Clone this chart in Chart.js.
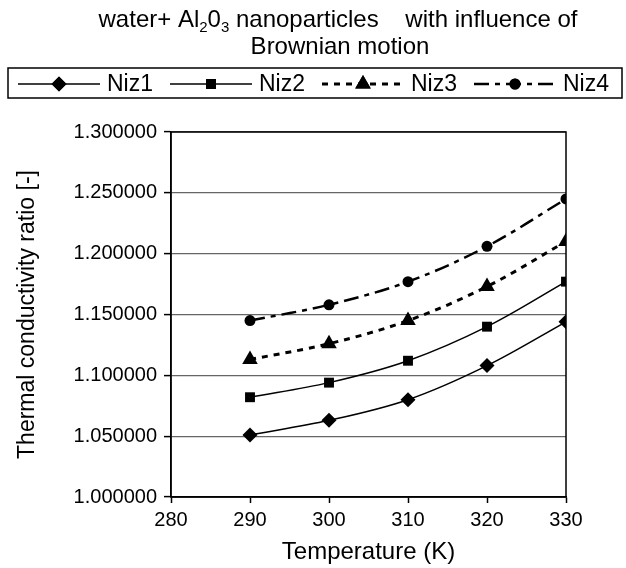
<!DOCTYPE html>
<html>
<head>
<meta charset="utf-8">
<script src="https://cdn.jsdelivr.net/npm/chart.js@4.4.1/dist/chart.umd.min.js"></script>
<style>
  body { margin: 0; background: #fff; }
  canvas { display: block; }
</style>
</head>
<body>
<canvas id="chart" width="626" height="568"></canvas>
<script>
// data
const temps = [290, 300, 310, 320, 330];
const niz1 = [1.051, 1.063, 1.080, 1.108, 1.144];
const niz2 = [1.082, 1.094, 1.112, 1.140, 1.177];
const niz3 = [1.113, 1.126, 1.145, 1.173, 1.210];
const niz4 = [1.145, 1.158, 1.177, 1.206, 1.245];
const seriesNames = ['Niz1', 'Niz2', 'Niz3', 'Niz4'];
const xTicks = [280, 290, 300, 310, 320, 330];
const yTicks = [1.0, 1.05, 1.1, 1.15, 1.2, 1.25, 1.3];

const FONT = '"Liberation Sans", Arial, sans-serif';

// marker + line look for each series
const looks = [
    {pointStyle: 'rectRot', radius: 7.5, dash: [], width: 1.5},
    {pointStyle: 'rect', radius: 7, dash: [], width: 1.5},
    {pointStyle: 'triangle', radius: 9, dash: [6, 6], width: 3},
    {pointStyle: 'circle', radius: 5.5, dash: [15, 6, 5, 6], width: 2.5}
];

function toPoints(values){
    return values.map((v, i) => ({x: temps[i], y: v}));
}

const allValues = [niz1, niz2, niz3, niz4];
const datasets = [];
for(let i = 0; i < allValues.length; i++){
    datasets.push({
        label: seriesNames[i],
        data: toPoints(allValues[i]),
        borderColor: '#000',
        backgroundColor: '#000',
        borderWidth: looks[i].width,
        borderDash: looks[i].dash,
        tension: 0.35,
        pointStyle: looks[i].pointStyle,
        pointRadius: looks[i].radius,
        pointHoverRadius: looks[i].radius,
        pointBorderWidth: 0,
        pointBackgroundColor: '#000'
    });
}

// title (with subscripts), boxed legend and plot frame
const decorPlugin = {
    id: 'decor',
    afterDraw(chart){
        const ctx = chart.ctx;
        const area = chart.chartArea;
        ctx.save();

        // frame round plot area
        ctx.strokeStyle = '#000';
        ctx.lineWidth = 1.5;
        ctx.strokeRect(area.left, area.top, area.right - area.left, area.bottom - area.top);

        // title line 1
        const mainFont = '24px ' + FONT;
        const subFont = '15px ' + FONT;
        const parts = [['water+ Al', false], ['2', true], ['0', false], ['3', true],
                       [' nanoparticles    with influence of', false]];
        ctx.fillStyle = '#000';
        ctx.textBaseline = 'alphabetic';
        ctx.textAlign = 'left';
        let total = 0;
        parts.forEach(p => {
            ctx.font = p[1] ? subFont : mainFont;
            total += ctx.measureText(p[0]).width;
        });
        let x = 338 - total / 2;
        parts.forEach(p => {
            ctx.font = p[1] ? subFont : mainFont;
            ctx.fillText(p[0], x, p[1] ? 32 : 27);
            x += ctx.measureText(p[0]).width;
        });
        ctx.font = mainFont;
        ctx.textAlign = 'center';
        ctx.fillText('Brownian motion', 340, 54);

        // legend box
        ctx.lineWidth = 1.5;
        ctx.strokeRect(8, 68, 614, 30);
        ctx.font = '23px ' + FONT;
        ctx.textAlign = 'left';
        ctx.textBaseline = 'middle';
        const ly = 84;
        for(let i = 0; i < seriesNames.length; i++){
            const x0 = 18 + i * 152;
            ctx.beginPath();
            ctx.setLineDash(looks[i].dash);
            ctx.lineWidth = looks[i].width;
            ctx.moveTo(x0, ly);
            ctx.lineTo(x0 + 82, ly);
            ctx.stroke();
            ctx.setLineDash([]);
            Chart.helpers.drawPoint(ctx, {pointStyle: looks[i].pointStyle, radius: looks[i].radius, borderWidth: 0}, x0 + 41, ly);
            ctx.fill();
            ctx.fillText(seriesNames[i], x0 + 89, ly + 1);
        }
        ctx.restore();
    }
};

new Chart(document.getElementById('chart'), {
    type: 'line',
    data: {datasets: datasets},
    plugins: [decorPlugin],
    options: {
        responsive: false,
        animation: false,
        layout: {padding: {top: 132, right: 60, left: 0, bottom: 0}},
        plugins: {
            legend: {display: false},
            title: {display: false},
            tooltip: {enabled: false}
        },
        scales: {
            x: {
                type: 'linear',
                min: 280,
                max: 330,
                afterBuildTicks: s => { s.ticks = xTicks.map(v => ({value: v})); },
                afterFit: s => { s.height = 71; },
                ticks: {color: '#000', font: {family: FONT, size: 20}, padding: 5},
                grid: {drawOnChartArea: false, tickLength: 6, tickColor: '#000', tickWidth: 1.5},
                border: {color: '#000', width: 1.5},
                title: {display: true, text: 'Temperature (K)', color: '#000',
                        font: {family: FONT, size: 24}, padding: {bottom: 1, top: 0}}
            },
            y: {
                min: 1.0,
                max: 1.3,
                afterBuildTicks: s => { s.ticks = yTicks.map(v => ({value: v})); },
                afterFit: s => { s.width = 171; },
                ticks: {color: '#000', font: {family: FONT, size: 20}, padding: 7,
                        callback: v => v.toFixed(6)},
                grid: {color: '#666', lineWidth: 1.2, tickLength: 7, tickColor: '#000', tickWidth: 1.5},
                border: {color: '#000', width: 1.5},
                title: {display: true, text: 'Thermal conductivity ratio [-]', color: '#000',
                        font: {family: FONT, size: 23}, padding: {top: 14, bottom: 0}}
            }
        }
    }
});
</script>
</body>
</html>
